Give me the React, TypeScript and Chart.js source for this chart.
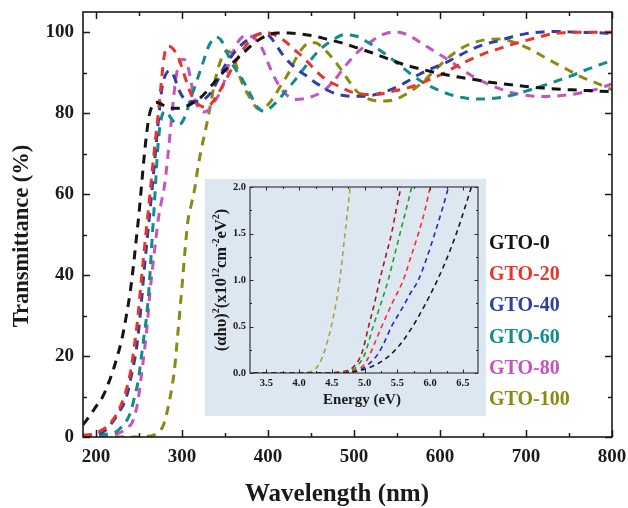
import React, { useEffect, useRef } from "react";
import { Chart, registerables } from "chart.js";

Chart.register(...registerables);

const FONT = "'Liberation Serif', 'Times New Roman', Times, serif";

// ---------- main chart data ----------
const seriesLabels = ["GTO-0", "GTO-20", "GTO-40", "GTO-60", "GTO-80", "GTO-100"];
const seriesColors = ["#141414", "#e8352b", "#2f3fa6", "#118b8b", "#c653c2", "#8a8a10"];

const gto0Wavelength = [185, 192, 200, 208, 215, 220, 225, 230, 235, 240, 244, 247, 250, 253, 256, 259, 262, 266, 270, 275, 285, 295, 305, 315, 324, 332, 340, 350, 360, 370, 380, 390, 400, 410, 425, 440, 455, 470, 487, 500, 520, 540, 560, 580, 600, 620, 640, 660, 680, 700, 720, 740, 760, 780, 800];
const gto0Transmittance = [3, 5, 7.5, 10, 13.5, 16.5, 20, 24, 29.5, 36, 43, 49, 55, 62, 69, 75, 79.5, 82, 82.7, 82.3, 81.4, 81.2, 81.7, 82.8, 84.3, 86.2, 88.2, 90.6, 92.6, 94.6, 96.6, 98.2, 99.3, 99.8, 99.8, 99.5, 99, 98.2, 97.3, 96.4, 95, 93.4, 91.9, 90.8, 89.8, 89, 88.3, 87.6, 87.1, 86.6, 86.2, 85.9, 85.7, 85.5, 85.3];

const gto20Wavelength = [185, 195, 205, 215, 225, 233, 237, 241, 245, 249, 252, 255, 258, 261, 264, 267, 270, 273, 276, 279, 282, 286, 290, 295, 300, 305, 310, 315, 320, 327, 334, 342, 350, 358, 366, 374, 382, 390, 397, 405, 413, 421, 430, 440, 450, 460, 470, 482, 495, 510, 525, 545, 560, 575, 590, 606, 620, 637, 652, 668, 684, 699, 715, 730, 745, 761, 780, 800];
const gto20Transmittance = [0.5, 0.6, 1.5, 3, 6, 10, 13, 17, 23, 30, 37, 43.5, 50, 56, 62.5, 69, 75, 81, 87.5, 93.5, 96.3, 96.5, 95.8, 94.2, 91.3, 88, 85, 83, 82, 81.5, 82.3, 84.8, 87.8, 91, 94, 96.6, 98.5, 99.6, 99.9, 99.6, 98.7, 97.6, 95.8, 94, 91.8, 89.6, 88, 86.7, 85.4, 84.7, 84.6, 85.4, 86.1, 87.1, 88.5, 90, 91.7, 93.4, 94.8, 95.9, 97, 97.9, 98.8, 99.6, 99.9, 100, 100, 100];

const gto40Wavelength = [185, 195, 203, 210, 215, 222, 228, 232, 237, 241, 244, 247, 250, 253, 256, 259, 262, 265, 268, 271, 274, 277, 281, 286, 291, 296, 301, 306, 312, 320, 328, 335, 342, 348, 355, 363, 372, 382, 392, 398, 404, 410, 416, 422, 430, 437, 445, 452, 460, 470, 482, 497, 514, 530, 545, 560, 575, 590, 606, 621, 637, 652, 668, 684, 699, 715, 730, 761, 780, 800];
const gto40Transmittance = [0.3, 0.3, 0.8, 1.5, 2.5, 4.5, 6.5, 8, 11, 15, 18, 21.5, 27, 33.5, 41, 47.5, 54, 60.5, 67.5, 74.5, 81, 86.5, 89.5, 90.5, 89, 86, 84, 83.2, 82.9, 83, 83.8, 85.5, 88.3, 91, 93.3, 95.5, 97.4, 98.9, 99.6, 99.6, 98.5, 96.7, 94.8, 93.2, 91.5, 90.3, 89.2, 88, 86.9, 85.6, 84.6, 84.2, 84.2, 84.9, 86, 87.6, 89.5, 91, 92.4, 94.1, 95.8, 97, 97.9, 98.9, 99.6, 100, 100.2, 100, 99.9, 99.7];

const gto60Wavelength = [185, 200, 215, 225, 232, 237, 241, 245, 249, 253, 256, 259, 261.5, 263.5, 265.5, 267.5, 269.5, 271.5, 274, 277, 281, 285, 290, 295, 300, 305, 310, 315, 320, 325, 330, 335, 340, 345, 350, 355, 361, 367, 373, 380, 386, 391, 396, 402, 411, 420, 432, 446, 461, 475, 489, 503, 517, 534, 550, 566, 581, 597, 612, 628, 643, 659, 674, 690, 705, 720, 735, 751, 766, 781, 800];
const gto60Transmittance = [0.3, 0.5, 0.8, 1.5, 3, 4.5, 6.5, 10, 13.7, 20, 25, 30, 36, 42.5, 49.5, 56, 63, 70, 76, 79.5, 80.5, 79.5, 78, 77.2, 77.7, 80, 83.5, 86.5, 89.7, 92.8, 96, 98, 98.8, 98.2, 96.3, 93.7, 91.3, 89.5, 87.3, 84.5, 82, 80.8, 80.5, 81.2, 83, 85.3, 88.3, 92.2, 95.8, 98, 99.4, 99, 97.4, 95, 92.4, 89.7, 87.5, 85.8, 84.6, 83.8, 83.5, 83.6, 84, 84.8, 85.8, 86.8, 87.9, 89.1, 90.4, 91.6, 93];

const gto80Wavelength = [185, 200, 215, 225, 232, 238, 242, 246, 249, 253, 257, 260, 262.5, 266, 269.5, 273, 277, 280, 283, 286, 289, 292, 295, 298, 301, 304, 307, 310, 313, 317, 321, 326, 331, 337, 343, 348, 353, 358, 364, 370, 376, 382, 389, 395, 400, 405, 411, 418, 425, 432, 440, 450, 463, 476, 489, 503, 518, 533, 548, 562, 577, 592, 608, 624, 639, 655, 670, 685, 701, 716, 732, 748, 763, 780, 800];
const gto80Transmittance = [0.2, 0.2, 0.4, 0.8, 1.5, 2.5, 3.5, 6, 9, 15.4, 22.4, 28.5, 35, 42, 48.5, 54.5, 59, 62.5, 68, 74.5, 81, 87, 91, 92.8, 93.3, 93, 91.5, 88.5, 85, 82.3, 80.8, 80.3, 80.8, 82.6, 84.6, 87, 91, 94.3, 97.2, 98.8, 99.2, 98.8, 97.5, 95.2, 92.5, 90, 87.5, 85.3, 84, 83.4, 83.5, 84, 85.3, 87.8, 91.4, 94.8, 97.4, 99.4, 100.1, 99.4, 97.5, 95.5, 93.4, 91.1, 89, 87.3, 86, 85, 84.4, 84.1, 84.2, 84.5, 85, 85.8, 87.2];

const gto100Wavelength = [185, 200, 220, 240, 255, 262, 268, 273, 278, 282, 286, 289, 292, 295, 298, 301, 304, 307, 311, 315, 318.5, 322, 326, 330, 334, 338, 342, 347, 352, 357, 361, 365, 370, 375, 380, 385, 390, 395, 401, 407, 414, 420, 425, 432, 440, 447, 455, 462, 470, 478, 486, 494, 503, 512, 522, 534, 548, 563, 579, 593, 608, 623, 639, 655, 670, 685, 701, 716, 732, 748, 763, 780, 800];
const gto100Transmittance = [0, 0, 0, 0, 0, 0.2, 0.5, 1.2, 2.7, 5.5, 9.5, 13, 18, 25, 32, 39.5, 47, 53.5, 57.5, 61.5, 66.5, 70.5, 74.5, 78.5, 83, 87.5, 91, 94, 95.3, 95, 93.2, 90.5, 87.5, 85.3, 83.5, 81.8, 81, 81.2, 82.3, 84, 86.5, 88.5, 90.3, 93.3, 96, 97.3, 97.4, 96.5, 94.8, 92.8, 90.5, 88, 85.5, 84, 83.2, 83, 83.4, 85, 87.5, 90.4, 93.4, 95.8, 97.4, 98.2, 98.3, 97.6, 96.2, 94.5, 92.6, 90.8, 89.1, 87.6, 85.8];

const xMajorTicks = [200, 300, 400, 500, 600, 700, 800];
const xMinorTicks = [250, 350, 450, 550, 650, 750];
const yMajorTicks = [0, 20, 40, 60, 80, 100];
const yMinorTicks = [10, 30, 50, 70, 90];

// ---------- inset (Tauc plot) data ----------
const insetColors = ["#1a1a1a", "#ff2a2a", "#2626c4", "#1fa31f", "#9c1c1c", "#a6a634"];

const inset0Energy = [3.3, 4.6, 4.8, 5.0, 5.2, 5.4, 5.6, 5.8, 6.0, 6.2, 6.4, 6.63];
const inset0Value = [0, 0, 0.01, 0.04, 0.1, 0.2, 0.36, 0.58, 0.84, 1.14, 1.5, 2.0];
const inset20Energy = [3.3, 4.5, 4.7, 4.85, 4.98, 5.08, 5.17, 5.26, 5.42, 5.59, 5.72, 5.82, 5.92, 6.0];
const inset20Value = [0, 0, 0.01, 0.03, 0.08, 0.2, 0.35, 0.5, 0.75, 1.0, 1.28, 1.5, 1.75, 2.0];
const inset40Energy = [3.3, 4.6, 4.8, 4.95, 5.05, 5.2, 5.3, 5.41, 5.5, 5.6, 5.7, 5.82, 5.95, 6.07, 6.18, 6.28];
const inset40Value = [0, 0, 0.01, 0.04, 0.09, 0.2, 0.33, 0.5, 0.61, 0.73, 0.86, 1.0, 1.24, 1.5, 1.75, 2.0];
const inset60Energy = [3.3, 4.5, 4.7, 4.8, 4.88, 5.0, 5.13, 5.25, 5.36, 5.45, 5.54, 5.63, 5.72];
const inset60Value = [0, 0, 0.01, 0.03, 0.07, 0.2, 0.5, 0.75, 1.0, 1.25, 1.5, 1.75, 2.0];
const inset80Energy = [3.3, 4.4, 4.6, 4.75, 4.85, 4.96, 5.06, 5.15, 5.23, 5.32, 5.41, 5.48, 5.555];
const inset80Value = [0, 0, 0.01, 0.03, 0.08, 0.22, 0.5, 0.75, 1.0, 1.25, 1.5, 1.75, 2.0];
const inset100Energy = [3.3, 4.05, 4.15, 4.22, 4.3, 4.37, 4.44, 4.49, 4.56, 4.62, 4.7, 4.78];
const inset100Value = [0, 0, 0.01, 0.03, 0.09, 0.2, 0.36, 0.5, 0.74, 1.0, 1.5, 2.0];

const insetXMajor = [3.5, 4.0, 4.5, 5.0, 5.5, 6.0, 6.5];
const insetXMinor = [3.75, 4.25, 4.75, 5.25, 5.75, 6.25];
const insetYMajor = [0, 0.5, 1.0, 1.5, 2.0];
const insetYMinor = [0.25, 0.75, 1.25, 1.75];

const mainXTitle = "Wavelength (nm)";
const mainYTitle = "Transmittance (%)";
const insetXTitle = "Energy (eV)";
const insetYTitleParts: [string, boolean][] = [
  ["(αhυ)", false], ["2", true], ["(x10", false], ["12", true], ["cm", false], ["-2", true], ["eV", false], ["2", true], [")", false],
];

const mainSeries = [
  [gto0Wavelength, gto0Transmittance],
  [gto20Wavelength, gto20Transmittance],
  [gto40Wavelength, gto40Transmittance],
  [gto60Wavelength, gto60Transmittance],
  [gto80Wavelength, gto80Transmittance],
  [gto100Wavelength, gto100Transmittance],
];
const insetSeries = [
  [inset0Energy, inset0Value],
  [inset20Energy, inset20Value],
  [inset40Energy, inset40Value],
  [inset60Energy, inset60Value],
  [inset80Energy, inset80Value],
  [inset100Energy, inset100Value],
];

function toPoints(xs: number[], ys: number[]) {
  return xs.map((x, i) => ({ x, y: ys[i] }));
}

function framePlugin(cfg: any) {
  return {
    id: "frameTicks",
    afterDatasetsDraw(chart: any) {
      const { ctx, chartArea: a } = chart;
      const xs = chart.scales.x;
      const ys = chart.scales.y;
      ctx.save();
      ctx.strokeStyle = cfg.color;
      ctx.lineWidth = cfg.tickWidth;
      ctx.beginPath();
      const xm = (vals: number[], len: number) => {
        for (const v of vals) {
          const p = Math.round(xs.getPixelForValue(v)) + 0.5;
          ctx.moveTo(p, a.bottom); ctx.lineTo(p, a.bottom - len);
          ctx.moveTo(p, a.top); ctx.lineTo(p, a.top + len);
        }
      };
      const ym = (vals: number[], len: number) => {
        for (const v of vals) {
          const p = Math.round(ys.getPixelForValue(v)) + 0.5;
          ctx.moveTo(a.left, p); ctx.lineTo(a.left + len, p);
          ctx.moveTo(a.right, p); ctx.lineTo(a.right - len, p);
        }
      };
      xm(cfg.xMajor, cfg.major); xm(cfg.xMinor, cfg.minor);
      ym(cfg.yMajor, cfg.major); ym(cfg.yMinor, cfg.minor);
      ctx.stroke();
      ctx.lineWidth = cfg.frameWidth;
      ctx.strokeRect(a.left, a.top, a.right - a.left, a.bottom - a.top);
      ctx.restore();
    },
  };
}

const mainTextPlugin = {
  id: "mainText",
  afterDraw(chart: any) {
    const { ctx, chartArea: a } = chart;
    ctx.save();
    ctx.fillStyle = "#1a1a1a";
    ctx.font = `bold 25px ${FONT}`;
    ctx.textAlign = "center";
    ctx.textBaseline = "alphabetic";
    ctx.fillText(mainXTitle, 337, 501);
    ctx.save();
    ctx.translate(28, 236);
    ctx.rotate(-Math.PI / 2);
    ctx.font = `bold 22.5px ${FONT}`;
    ctx.fillText(mainYTitle, 0, 0);
    ctx.restore();
    ctx.font = `bold 20px ${FONT}`;
    ctx.textAlign = "left";
    ctx.textBaseline = "middle";
    chart.data.datasets.forEach((ds: any, i: number) => {
      ctx.fillStyle = ds.borderColor;
      ctx.fillText(ds.label, a.right - 123, 243.5 + i * 31.3);
    });
    ctx.restore();
  },
};

const insetTextPlugin = {
  id: "insetText",
  afterDraw(chart: any) {
    const { ctx } = chart;
    ctx.save();
    ctx.fillStyle = "#1a1a1a";
    ctx.font = `bold 15px ${FONT}`;
    ctx.textAlign = "center";
    ctx.textBaseline = "alphabetic";
    ctx.fillText(insetXTitle, 157, 225);
    // rotated y title with superscripts
    const big = `bold 16.5px ${FONT}`;
    const small = `bold 10px ${FONT}`;
    let total = 0;
    for (const [t, sup] of insetYTitleParts) {
      ctx.font = sup ? small : big;
      total += ctx.measureText(t).width;
    }
    ctx.translate(21, 101);
    ctx.rotate(-Math.PI / 2);
    ctx.textAlign = "left";
    let x = -total / 2;
    for (const [t, sup] of insetYTitleParts) {
      ctx.font = sup ? small : big;
      ctx.fillText(t, x, sup ? -7 : 0);
      x += ctx.measureText(t).width;
    }
    ctx.restore();
  },
};

function fixScale(size: number, vertical: boolean) {
  return (s: any) => {
    if (vertical) s.width = size; else s.height = size;
    s.paddingTop = 0; s.paddingBottom = 0; s.paddingLeft = 0; s.paddingRight = 0;
  };
}

export default function App() {
  const mainRef = useRef<HTMLCanvasElement>(null);
  const insetRef = useRef<HTMLCanvasElement>(null);

  useEffect(() => {
    const tickFont = { family: FONT, size: 19, weight: "bold" as const };
    const main = new Chart(mainRef.current!, {
      type: "line",
      data: {
        datasets: mainSeries.map(([xs, ys], i) => ({
          label: seriesLabels[i],
          data: toPoints(xs, ys),
          borderColor: seriesColors[i],
          backgroundColor: seriesColors[i],
          borderWidth: 3,
          borderDash: [9, 7],
          pointRadius: 0,
          fill: false,
          cubicInterpolationMode: "monotone" as const,
        })),
      },
      options: {
        responsive: false,
        animation: false,
        devicePixelRatio: 1,
        layout: { padding: { top: 12, right: 16, left: 0, bottom: 0 } },
        plugins: { legend: { display: false }, tooltip: { enabled: false } },
        scales: {
          x: {
            type: "linear",
            min: 185,
            max: 800,
            afterBuildTicks: (s: any) => { s.ticks = xMajorTicks.map((v) => ({ value: v })); },
            afterFit: fixScale(71, false),
            grid: { display: false, drawTicks: false },
            border: { display: false },
            ticks: { font: tickFont, color: "#1a1a1a", padding: 9, maxRotation: 0, autoSkip: false },
          },
          y: {
            type: "linear",
            min: 0,
            max: 105,
            afterBuildTicks: (s: any) => { s.ticks = yMajorTicks.map((v) => ({ value: v })); },
            afterFit: fixScale(83, true),
            grid: { display: false, drawTicks: false },
            border: { display: false },
            ticks: { font: tickFont, color: "#1a1a1a", padding: 9, autoSkip: false },
          },
        },
      },
      plugins: [
        framePlugin({ color: "#1a1a1a", tickWidth: 1.5, frameWidth: 1.6, major: 7, minor: 4, xMajor: xMajorTicks, xMinor: xMinorTicks, yMajor: yMajorTicks, yMinor: yMinorTicks }),
        mainTextPlugin,
      ],
    } as any);

    const insetFont = { family: FONT, size: 10.5, weight: "bold" as const };
    const inset = new Chart(insetRef.current!, {
      type: "line",
      data: {
        datasets: insetSeries.map(([xs, ys], i) => ({
          label: seriesLabels[i],
          data: toPoints(xs, ys),
          borderColor: insetColors[i],
          borderWidth: 1.6,
          borderDash: [5, 4],
          pointRadius: 0,
          fill: false,
          cubicInterpolationMode: "monotone" as const,
        })),
      },
      options: {
        responsive: false,
        animation: false,
        devicePixelRatio: 1,
        layout: { padding: { top: 8, right: 8, left: 0, bottom: 0 } },
        plugins: { legend: { display: false }, tooltip: { enabled: false } },
        scales: {
          x: {
            type: "linear",
            min: 3.25,
            max: 6.73,
            afterBuildTicks: (s: any) => { s.ticks = insetXMajor.map((v) => ({ value: v })); },
            afterFit: fixScale(43, false),
            grid: { display: false, drawTicks: false },
            border: { display: false },
            ticks: { font: insetFont, color: "#1a1a1a", padding: 4, maxRotation: 0, autoSkip: false, callback: (v: any) => Number(v).toFixed(1) },
          },
          y: {
            type: "linear",
            min: 0,
            max: 2,
            afterBuildTicks: (s: any) => { s.ticks = insetYMajor.map((v) => ({ value: v })); },
            afterFit: fixScale(45, true),
            grid: { display: false, drawTicks: false },
            border: { display: false },
            ticks: { font: insetFont, color: "#1a1a1a", padding: 4, autoSkip: false, callback: (v: any) => Number(v).toFixed(1) },
          },
        },
      },
      plugins: [
        framePlugin({ color: "#2a2a2a", tickWidth: 1, frameWidth: 1.1, major: 3.5, minor: 2, xMajor: insetXMajor, xMinor: insetXMinor, yMajor: insetYMajor, yMinor: insetYMinor }),
        insetTextPlugin,
      ],
    } as any);

    return () => {
      main.destroy();
      inset.destroy();
    };
  }, []);

  return (
    <div style={{ position: "absolute", left: 0, top: 0, width: 628, height: 508, background: "#ffffff" }}>
      <canvas ref={mainRef} width={628} height={508} style={{ position: "absolute", left: 0, top: 0, width: 628, height: 508 }} />
      <canvas ref={insetRef} width={281} height={237} style={{ position: "absolute", left: 205, top: 179, width: 281, height: 237, background: "#dde7f2" }} />
    </div>
  );
}
